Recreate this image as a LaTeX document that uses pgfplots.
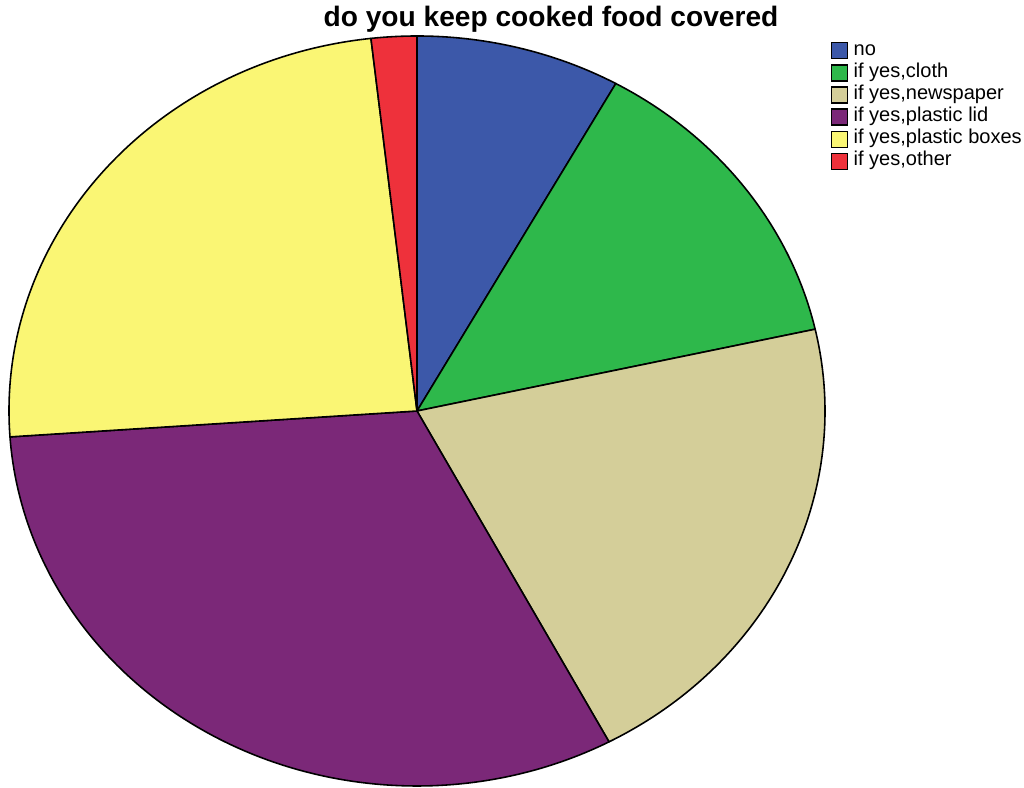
\documentclass[border=0pt]{standalone}
\usepackage{pgfplots}
\usepackage{pgfplotstable}
\pgfplotsset{compat=1.18}
\usepackage{fontspec}
\setmainfont{Liberation Sans}
\definecolor{cno}{HTML}{3C58A9}
\definecolor{ccloth}{HTML}{2EB84B}
\definecolor{cnews}{HTML}{D4CE99}
\definecolor{clid}{HTML}{7B2878}
\definecolor{cbox}{HTML}{FAF674}
\definecolor{cother}{HTML}{EE313B}
\pgfplotstableread{
pct col
8.1 cno
13.4 ccloth
20.7 cnews
31.7 clid
24.3 cbox
1.8 cother
}\piedata
\pgfplotsset{sqleg/.style={legend image code/.code={\draw[##1] (0cm,-0.08cm) rectangle (0.16cm,0.08cm);}}}
\begin{document}
\begin{tikzpicture}
\begin{axis}[
  scale only axis, width=10.24cm, height=7.88cm,
  xmin=0, xmax=1024, ymin=0, ymax=788,
  hide axis, clip=false,
  legend style={at={(axis cs:830,749)}, anchor=north west, draw=none, fill=none,
    font=\fontsize{5.7}{6.3}\selectfont, inner sep=0pt, row sep=0pt,
    nodes={inner sep=0pt, text height=4.4pt, text depth=1.9pt},
    /tikz/every odd column/.append style={column sep=0.055cm}},
  legend cell align=left,
]
\addlegendimage{sqleg, fill=cno, draw=black, line width=0.4pt}
\addlegendentry{no}
\addlegendimage{sqleg, fill=ccloth, draw=black, line width=0.4pt}
\addlegendentry{if yes,cloth}
\addlegendimage{sqleg, fill=cnews, draw=black, line width=0.4pt}
\addlegendentry{if yes,newspaper}
\addlegendimage{sqleg, fill=clid, draw=black, line width=0.4pt}
\addlegendentry{if yes,plastic lid}
\addlegendimage{sqleg, fill=cbox, draw=black, line width=0.4pt}
\addlegendentry{if yes,plastic boxes}
\addlegendimage{sqleg, fill=cother, draw=black, line width=0.4pt}
\addlegendentry{if yes,other}
\def\cum{0}
\pgfplotsforeachungrouped \i in {0,...,5}{%
  \pgfplotstablegetelem{\i}{pct}\of\piedata \let\p\pgfplotsretval
  \pgfplotstablegetelem{\i}{col}\of\piedata \let\c\pgfplotsretval
  \pgfmathsetmacro\aS{90-3.6*\cum}%
  \pgfmathsetmacro\aE{90-3.6*(\cum+\p)}%
  \pgfmathsetmacro\cum{\cum+\p}%
  \pgfmathsetmacro\xs{417+408*cos(\aS)}%
  \pgfmathsetmacro\ys{377+375*sin(\aS)}%
  \edef\doslice{\noexpand\filldraw[fill=\c, draw=black, line width=0.45pt, line join=round] (axis cs:417,377) -- (axis cs:\xs,\ys) arc[start angle=\aS, end angle=\aE, x radius=4.08cm, y radius=3.75cm] -- cycle;}%
  \doslice
}
\node[font=\bfseries\fontsize{8.0}{9}\selectfont, anchor=center, inner sep=0pt] at (axis cs:551,769) {do you keep cooked food covered};
\end{axis}
\pgfresetboundingbox
\path (current axis.south west) rectangle (current axis.north east);
\end{tikzpicture}
\end{document}
